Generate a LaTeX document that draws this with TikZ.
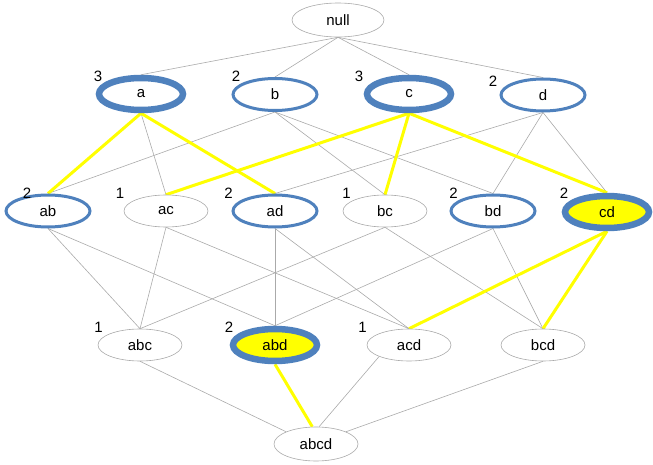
\documentclass[tikz,border=0pt]{standalone}
\usepackage{fontspec}
\setmainfont{Liberation Sans}
\usetikzlibrary{shapes.geometric}
\definecolor{pblue}{RGB}{79,129,189}
\definecolor{pyel}{RGB}{255,255,0}
\definecolor{pgray}{RGB}{170,170,170}
\pgfdeclarelayer{bg}\pgfsetlayers{bg,main}
\begin{document}
\begin{tikzpicture}[x=1pt,y=-1pt,
  setnode/.style={ellipse,draw=pgray,line width=0.6pt,fill=white,minimum width=84pt,minimum height=32pt,inner sep=0pt,font=\fontsize{15}{17}\selectfont},
  mednode/.style={setnode,draw=pblue,line width=3pt},
  heavynode/.style={setnode,draw=pblue,line width=6.5pt},
  hitfill/.style={fill=pyel},
  cnt/.style={inner sep=0pt,font=\fontsize{15}{17}\selectfont},
  link/.style={draw=pgray,line width=0.6pt},
  ylink/.style={draw=pyel,line width=3pt}]
\useasboundingbox (0,0) rectangle (653,465);
% nodes
\node[setnode,minimum width=92pt,minimum height=34pt] (null) at (338,20) {null};
\node[heavynode] (a) at (141,94) {a};
\node[mednode] (b) at (275,94.5) {b};
\node[heavynode] (c) at (409,94) {c};
\node[mednode] (d) at (543,95) {d};
\node[mednode] (ab) at (48,211) {ab};
\node[setnode] (ac) at (166,211) {ac};
\node[mednode] (ad) at (275,211) {ad};
\node[setnode] (bc) at (385,211) {bc};
\node[mednode] (bd) at (493,211) {bd};
\node[heavynode,hitfill] (cd) at (607,212) {cd};
\node[setnode] (abc) at (140,345) {abc};
\node[heavynode,hitfill] (abd) at (275,345) {abd};
\node[setnode] (acd) at (409,345) {acd};
\node[setnode] (bcd) at (543,345) {bcd};
\node[setnode,minimum height=34pt] (abcd) at (316,444) {abcd};
% counts
\node[cnt] (na) at (98,76.5) {3};
\node[cnt] (nb) at (236,76.5) {2};
\node[cnt] (nc) at (359,76.5) {3};
\node[cnt] (nd) at (493,81.5) {2};
\node[cnt] (nab) at (27,193.5) {2};
\node[cnt] (nac) at (120,193.5) {1};
\node[cnt] (nad) at (228.5,193.5) {2};
\node[cnt] (nbc) at (346.5,193.5) {1};
\node[cnt] (nbd) at (453.5,193.5) {2};
\node[cnt] (ncd) at (564,193.5) {2};
\node[cnt] (nabc) at (98.5,327.5) {1};
\node[cnt] (nabd) at (229,327.5) {2};
\node[cnt] (nacd) at (362.5,327.5) {1};
% edges
\begin{pgfonlayer}{bg}
\foreach \s/\t in {null/a,null/b,null/c,null/d,
  a/ac,b/ab,b/bc,b/bd,d/ad,d/bd,d/cd,
  ab/abc,ab/abd,ac/abc,ac/acd,ad/abd,ad/acd,bc/abc,bc/bcd,bd/abd,bd/bcd}
  \path[link] (\s.south) -- (\t.north);
\path[link] (abc.south) -- (abcd.north west);
\path[link] (acd.south west) -- (abcd.80);
\path[link] (bcd.south) -- (abcd.north east);
\foreach \s/\t in {a/ab,a/ad,c/ac,c/bc,c/cd,cd/acd,cd/bcd}
  \path[ylink] (\s.south) -- (\t.north);
\path[ylink] (abd.south) -- (abcd.102);
\end{pgfonlayer}
\end{tikzpicture}
\end{document}
